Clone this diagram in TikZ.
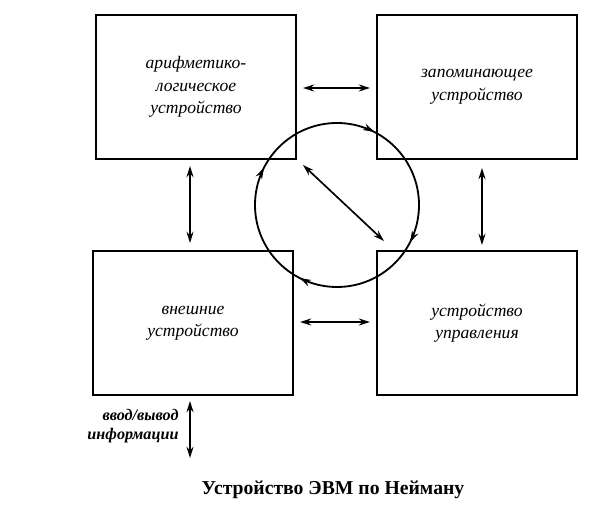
\documentclass[tikz,border=0pt]{standalone}
\usepackage{fontspec}
\setmainfont{Liberation Serif}
\usetikzlibrary{arrows.meta,decorations.markings}
\tikzset{
  block/.style={draw, line width=1.3pt, minimum width=5cm, minimum height=3.6cm, align=center, font=\itshape\fontsize{12.5}{16}\selectfont},
  link/.style={{Stealth[length=8pt,width=5pt]}-{Stealth[length=8pt,width=5pt]}, line width=1.2pt},
}
\begin{document}
\begin{tikzpicture}[x=0.025cm, y=-0.025cm, line cap=round]
  \useasboundingbox (0,0) rectangle (600,510);

  % Blocks
  \node[block] (alu) at (196,87)  {арифметико-\\логическое\\устройство};
  \node[block] (mem) at (477,87)  {запоминающее\\устройство};
  \node[block] (ext) at (193,323) {внешние\\устройство};
  \node[block] (cu)  at (477,323) {устройство\\управления};

  % Cycle
  \draw[line width=1.3pt, postaction={decorate}, decoration={markings,
      mark=at position 0.075 with {\arrow{Stealth[length=8pt,width=5pt]}},
      mark=at position 0.325 with {\arrow{Stealth[length=8pt,width=5pt]}},
      mark=at position 0.575 with {\arrow{Stealth[length=8pt,width=5pt]}},
      mark=at position 0.825 with {\arrow{Stealth[length=8pt,width=5pt]}}}]
    (337,205) ++(-90:82) arc[start angle=-90, end angle=270, radius=82];

  % Links
  \coordinate (a1) at (303,88);
  \coordinate (a2) at (370,88);
  \draw[link] (a1) -- (a2);
  \coordinate (b1) at (300,322);
  \coordinate (b2) at (370,322);
  \draw[link] (b1) -- (b2);
  \coordinate (c1) at (190,166);
  \coordinate (c2) at (190,243);
  \draw[link] (c1) -- (c2);
  \coordinate (d1) at (482,168);
  \coordinate (d2) at (482,245);
  \draw[link] (d1) -- (d2);
  \coordinate (e1) at (303,165);
  \coordinate (e2) at (384,241);
  \draw[link] (e1) -- (e2);
  \coordinate (f1) at (190,401);
  \coordinate (f2) at (190,458);
  \draw[link] (f1) -- (f2);

  % Labels
  \node[align=right, font=\bfseries\itshape\fontsize{11.5}{14}\selectfont] (io) at (133,426) {ввод/вывод\\информации};
  \node[font=\bfseries\fontsize{14}{16}\selectfont] (cap) at (333,490) {Устройство ЭВМ по Нейману};
\end{tikzpicture}
\end{document}
